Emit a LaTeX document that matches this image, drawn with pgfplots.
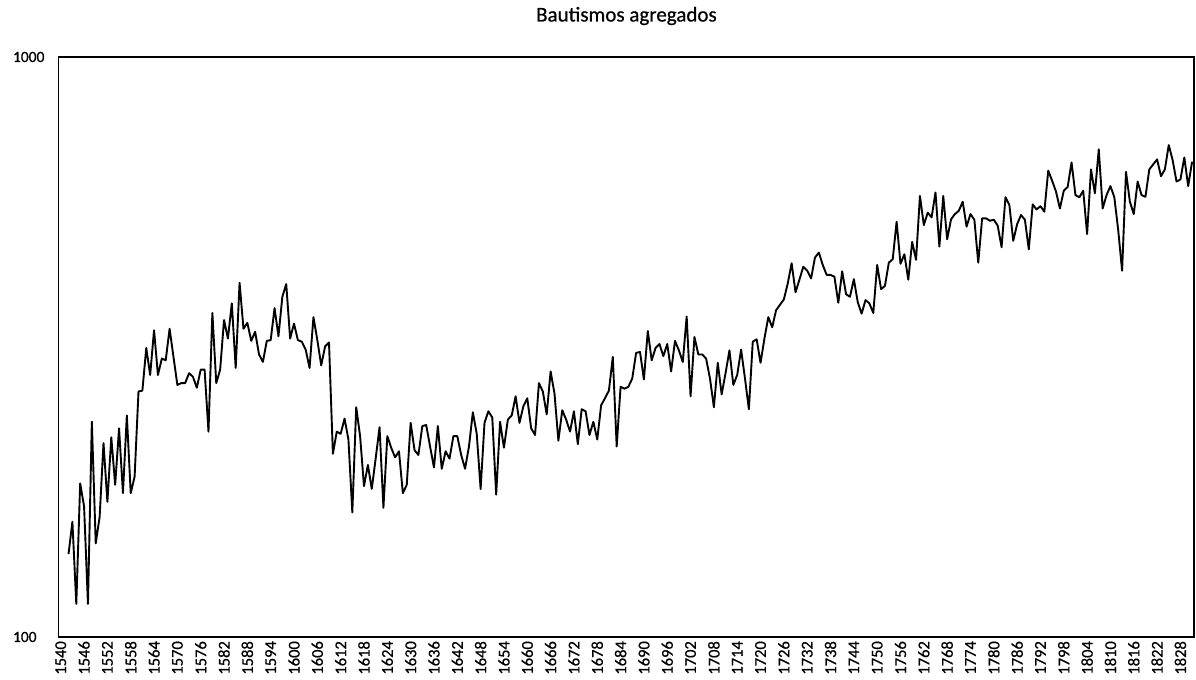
\documentclass[border=0pt]{standalone}
\usepackage{pgfplots}
\pgfplotsset{compat=1.18}
\usepackage{pgfplotstable}
\usepackage{fontspec}
\setmainfont{Carlito}[FakeBold=0.6]

\pgfplotstableread{
year value
1542 139
1543 158
1544 114
1545 184
1546 168
1547 114
1548 235
1549 145
1550 161
1551 216
1552 171
1553 221
1554 183
1555 229
1556 177
1557 241
1558 177
1559 189
1560 265
1561 266
1562 315
1563 283
1564 338
1565 283
1566 302
1567 300
1568 340
1569 304
1570 272
1571 274
1572 274
1573 285
1574 281
1575 269
1576 289
1577 289
1578 226
1579 362
1580 274
1581 289
1582 352
1583 327
1584 376
1585 291
1586 408
1587 340
1588 348
1589 324
1590 336
1591 307
1592 298
1593 324
1594 325
1595 369
1596 330
1597 386
1598 406
1599 327
1600 347
1601 325
1602 323
1603 313
1604 291
1605 356
1606 325
1607 294
1608 317
1609 322
1610 207
1611 226
1612 224
1613 238
1614 219
1615 164
1616 249
1617 222
1618 182
1619 198
1620 180
1621 203
1622 230
1623 167
1624 222
1625 212
1626 204
1627 209
1628 177
1629 183
1630 234
1631 210
1632 206
1633 231
1634 232
1635 213
1636 196
1637 231
1638 195
1639 209
1640 203
1641 222
1642 222
1643 206
1644 195
1645 213
1646 244
1647 224
1648 180
1649 234
1650 245
1651 239
1652 176
1653 235
1654 212
1655 237
1656 241
1657 260
1658 234
1659 250
1660 258
1661 229
1662 223
1663 274
1664 265
1665 242
1666 287
1667 263
1668 218
1669 246
1670 237
1671 226
1672 245
1673 215
1674 247
1675 245
1676 223
1677 235
1678 219
1679 251
1680 258
1681 266
1682 304
1683 213
1684 270
1685 268
1686 270
1687 279
1688 309
1689 310
1690 278
1691 337
1692 300
1693 315
1694 320
1695 305
1696 320
1697 287
1698 324
1699 312
1700 298
1701 357
1702 260
1703 329
1704 307
1705 307
1706 302
1707 279
1708 249
1709 297
1710 262
1711 285
1712 312
1713 272
1714 283
1715 313
1716 279
1717 247
1718 323
1719 326
1720 297
1721 327
1722 356
1723 342
1724 366
1725 374
1726 382
1727 407
1728 441
1729 393
1730 413
1731 435
1732 428
1733 415
1734 451
1735 460
1736 438
1737 421
1738 421
1739 418
1740 377
1741 427
1742 390
1743 386
1744 414
1745 378
1746 361
1747 381
1748 376
1749 362
1750 438
1751 398
1752 403
1753 442
1754 448
1755 520
1756 440
1757 457
1758 413
1759 480
1760 447
1761 576
1762 513
1763 539
1764 529
1765 584
1766 471
1767 576
1768 485
1769 525
1770 536
1771 543
1772 563
1773 510
1774 536
1775 524
1776 442
1777 527
1778 527
1779 522
1780 524
1781 512
1782 470
1783 573
1784 556
1785 482
1786 515
1787 534
1788 524
1789 466
1790 557
1791 546
1792 553
1793 541
1794 637
1795 612
1796 586
1797 548
1798 588
1799 597
1800 658
1801 578
1802 573
1803 588
1804 495
1805 640
1806 582
1807 693
1808 548
1809 578
1810 599
1811 573
1812 503
1813 428
1814 634
1815 563
1816 536
1817 610
1818 578
1819 574
1820 640
1821 653
1822 666
1823 623
1824 640
1825 705
1826 664
1827 610
1828 615
1829 671
1830 599
1831 660
}\bautismos

\begin{document}
\begin{tikzpicture}
\begin{axis}[
  at={(0,0)}, anchor=south west,
  scale only axis,
  width=1135.2bp, height=580bp,
  xmin=1539.5, xmax=1831.5,
  ymode=log, ymin=100, ymax=1000,
  ytick={100,1000}, yticklabels={100,1000},
  xtick={1540,1546,...,1828},
  xticklabel={\pgfmathprintnumber[fixed,precision=0,1000 sep={},assume math mode=true]{\tick}},
  minor tick num=0,
  log basis y=10,
  yminorticks=false,
  major tick length=0pt,
  axis line style={black, line width=1.3bp},
  xticklabel style={yshift=-4bp, rotate=90, anchor=east, inner sep=0pt, font=\fontsize{16.5bp}{19bp}\selectfont},
  yticklabel style={anchor=west, xshift=-46bp, inner sep=0pt, font=\fontsize{15.5bp}{18bp}\selectfont},
  title={Bautismos agregados},
  title style={at={(0.5,1)}, anchor=center, yshift=35bp, inner sep=0pt, font=\fontsize{21bp}{25bp}\selectfont},
  clip=true,
]
\addplot[black, line width=1.9bp, line join=round, mark=none] table[x=year, y=value] {\bautismos};
\end{axis}
\pgfresetboundingbox
\useasboundingbox (-58.8bp,-43bp) rectangle (1137.2bp,637bp);
\end{tikzpicture}
\end{document}
